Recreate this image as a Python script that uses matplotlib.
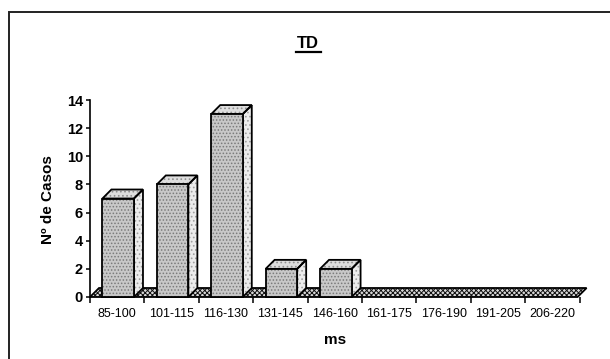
import matplotlib
matplotlib.use("Agg")
import matplotlib.pyplot as plt
from matplotlib.patches import Polygon, Rectangle
from matplotlib.lines import Line2D

plt.rcParams['font.family'] = ['Liberation Sans', 'DejaVu Sans']
plt.rcParams['hatch.linewidth'] = 0.7

categories = ["85-100", "101-115", "116-130", "131-145", "146-160",
              "161-175", "176-190", "191-205", "206-220"]
casos = [7, 8, 13, 2, 2, 0, 0, 0, 0]
yticks = [0, 2, 4, 6, 8, 10, 12, 14]

W, H = 610, 359
fig = plt.figure(figsize=(W / 100, H / 100), dpi=100)

# axes box in pixels: x 90..579.6, y 297 (zero) .. 100 (14)
ax = fig.add_axes([90 / W, (H - 297) / H, 489.6 / W, 197 / H])
n = len(categories)
ax.set_xlim(0, n)
ax.set_ylim(0, 14)

# depth of the pseudo-3D faces (in data units)
px_x = n / 489.6
px_y = 14 / 197
dx, dy = 9 * px_x, 9 * px_y
bw = 0.58


def face(pts, fc, hatch, hc, z):
    ax.add_patch(Polygon(pts, closed=True, facecolor=fc, edgecolor='none',
                         lw=0, zorder=z, clip_on=False))
    ax.add_patch(Polygon(pts, closed=True, facecolor='none', edgecolor=hc,
                         hatch=hatch, lw=0, zorder=z, clip_on=False))
    ax.add_patch(Polygon(pts, closed=True, facecolor='none', edgecolor='black',
                         lw=1.3, zorder=z + 0.1, clip_on=False,
                         joinstyle='miter'))


# floor
face([(0, 0), (n - 2 * px_x, 0), (n - 2 * px_x + dx, dy), (dx, dy)],
     '#d8d8d8', 'xxxxxxx', '#101010', 1)

# bars
for i, v in enumerate(casos):
    if v <= 0:
        continue
    c = i + 0.5 + 1 * px_x
    x0, x1 = c - bw / 2, c + bw / 2
    face([(x1, 0), (x1 + dx, dy), (x1 + dx, v + dy), (x1, v)],
         '#ececec', '....', '#a0a0a0', 3)
    face([(x0, v), (x1, v), (x1 + dx, v + dy), (x0 + dx, v + dy)],
         '#dedede', '....', '#909090', 3)
    face([(x0, 0), (x1, 0), (x1, v), (x0, v)],
         '#c8c8c8', '.....', '#7a7a7a', 4)

for s in ['top', 'right', 'bottom']:
    ax.spines[s].set_visible(False)
ax.spines['left'].set_linewidth(1.2)
ax.spines['left'].set_zorder(6)

ax.set_yticks(yticks)
ax.set_yticklabels([str(t) for t in yticks], fontsize=10.5, fontweight='bold')
ax.tick_params(axis='y', direction='out', length=3, width=1.1, pad=2)

ax.set_xticks(range(n + 1))
ax.set_xticklabels([])
ax.tick_params(axis='x', which='major', direction='out', length=4, width=1.1)
ax.set_xticks([i + 0.5 for i in range(n)], minor=True)
ax.set_xticklabels(categories, minor=True, fontsize=9)
ax.tick_params(axis='x', which='minor', length=0, pad=8)
ax.patch.set_visible(False)

# title with underline
fig.text(308 / W, 1 - 44 / H, "TD", ha='center', va='center',
         fontsize=12, fontweight='bold')
fig.add_artist(Line2D([296 / W, 321 / W], [1 - 51.5 / H, 1 - 51.5 / H],
                      color='black', lw=1.6))

fig.text(48 / W, 1 - 200 / H, "Nº de Casos", rotation=90, ha='center',
         va='center', fontsize=11, fontweight='bold')
fig.text(335 / W, 1 - 340 / H, "ms", ha='center', va='center',
         fontsize=11, fontweight='bold')

# frame around the chart
fig.add_artist(Rectangle((9 / W, -0.05), 1.1, 1 - 12 / H + 0.05,
                         transform=fig.transFigure, fill=False,
                         edgecolor='#222222', lw=1.4))

fig.savefig("out.png", dpi=100)
